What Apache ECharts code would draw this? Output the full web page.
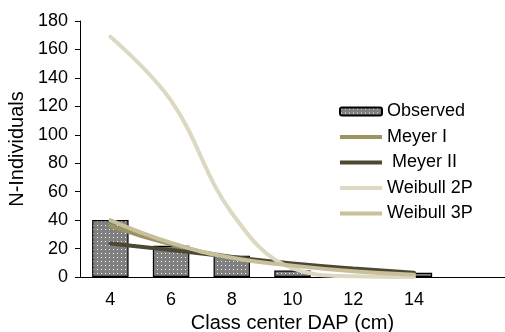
<!DOCTYPE html>
<html>
<head>
<meta charset="utf-8">
<script src="https://cdn.jsdelivr.net/npm/echarts@6/dist/echarts.min.js"></script>
<style>html,body{margin:0;padding:0;background:#fff;}#c{width:505px;height:332px;}</style>
</head>
<body>
<div id="c"></div>
<script>
var categories = ['4', '6', '8', '10', '12', '14', ''];
var observed = [40, 22, 15, 4.5, 0, 3, null];
var meyerI = [36, 23, 14, 8.5, 5, 2.5, null];
var meyerII = [23.5, 19, 14, 9.5, 6, 3, null];
var weibull2P = [169, 124, 45, 6, 0.5, 0, null];
var weibull3P = [40, 24, 13.5, 8, 4, 1.5, null];

var pc = document.createElement('canvas');
pc.width = 4; pc.height = 4;
var ctx = pc.getContext('2d');
ctx.fillStyle = '#808080';
ctx.fillRect(0, 0, 4, 4);
ctx.fillStyle = '#f4f4f4';
ctx.fillRect(1, 1, 1, 1);

var font = 'Liberation Sans, Arial, sans-serif';
var chart = echarts.init(document.getElementById('c'));
function lineSeries(name, data, color, smooth) {
  return {
    name: name, type: 'line', data: data, smooth: smooth, symbol: 'none',
    lineStyle: { color: color, width: 4, cap: 'round' },
    itemStyle: { color: color }
  };
}
var lineIcon = 'path://M0,0L42,0L42,4L0,4Z';
chart.setOption({
  animation: false,
  grid: { left: 80, right: 0, top: 21, bottom: 55, containLabel: false, outerBoundsMode: 'none' },
  legend: {
    orient: 'vertical', left: 334, top: 96,
    itemWidth: 42, itemHeight: 8, itemGap: 4.5,
    textStyle: { fontFamily: font, fontSize: 18, color: '#000', lineHeight: 21 },
    data: [
      { name: 'Observed' },
      { name: 'Meyer I', icon: lineIcon },
      { name: ' Meyer II', icon: lineIcon },
      { name: 'Weibull 2P', icon: lineIcon },
      { name: 'Weibull 3P', icon: lineIcon }
    ]
  },
  xAxis: {
    type: 'category', data: categories, boundaryGap: true,
    axisLine: { lineStyle: { color: '#000', width: 1 } },
    axisTick: { inside: false, length: 5, lineStyle: { color: '#000' } },
    axisLabel: { color: '#000', fontFamily: font, fontSize: 18, margin: 14 },
    name: 'Class center DAP (cm)', nameLocation: 'middle', nameGap: 36,
    nameTextStyle: { color: '#000', fontFamily: font, fontSize: 20 }
  },
  yAxis: {
    type: 'value', min: 0, max: 180, interval: 20,
    axisLine: { show: true, lineStyle: { color: '#000', width: 1 } },
    axisTick: { show: true, inside: false, length: 5, lineStyle: { color: '#000' } },
    splitLine: { show: false },
    axisLabel: { color: '#000', fontFamily: font, fontSize: 18, margin: 12 },
    name: 'N-Individuals', nameLocation: 'middle', nameGap: 49, nameRotate: 90,
    nameTextStyle: { color: '#000', fontFamily: font, fontSize: 20 }
  },
  series: [
    {
      name: 'Observed', type: 'bar', data: observed, barWidth: '60%',
      itemStyle: { color: { image: pc, repeat: 'repeat' }, borderColor: '#000', borderWidth: 1.2 }
    },
    lineSeries('Meyer I', meyerI, '#9C9262', true),
    lineSeries(' Meyer II', meyerII, '#4D4833', true),
    lineSeries('Weibull 2P', weibull2P, '#DCD8C2', 0.4),
    lineSeries('Weibull 3P', weibull3P, '#C8BF9B', true)
  ]
});
</script>
</body>
</html>
